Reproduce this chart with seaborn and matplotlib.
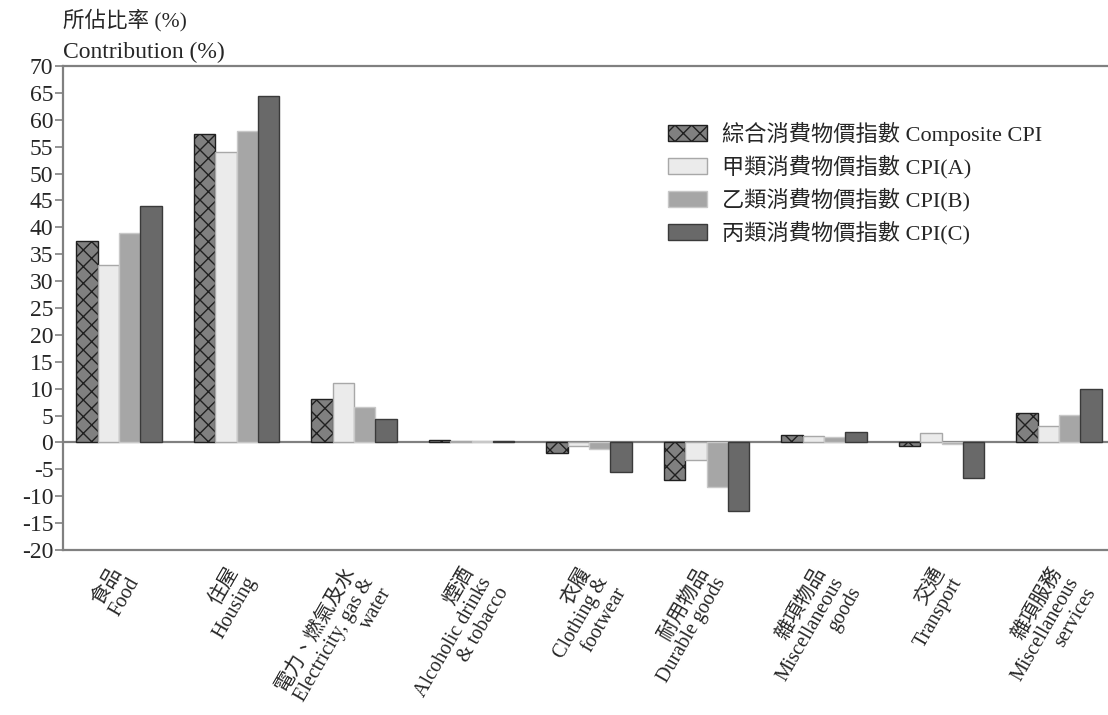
import matplotlib
matplotlib.use("Agg")
import matplotlib.pyplot as plt
import matplotlib.transforms as mtransforms
import numpy as np
import pandas as pd
import seaborn as sns

categories = ["食品\nFood", "住屋\nHousing", "電力、燃氣及水\nElectricity, gas &\nwater",
              "煙酒\nAlcoholic drinks\n& tobacco", "衣履\nClothing &\nfootwear",
              "耐用物品\nDurable goods", "雜項物品\nMiscellaneous\ngoods", "交通\nTransport",
              "雜項服務\nMiscellaneous\nservices"]
series = ["綜合消費物價指數 Composite CPI", "甲類消費物價指數 CPI(A)",
          "乙類消費物價指數 CPI(B)", "丙類消費物價指數 CPI(C)"]

composite = [37.4, 57.4, 8.1, 0.45, -1.9, -6.9, 1.35, -0.6, 5.4]
cpi_a = [33.0, 54.0, 11.0, 0.35, -0.75, -3.3, 1.15, 1.7, 3.1]
cpi_b = [38.9, 57.9, 6.6, 0.35, -1.2, -8.2, 0.95, -0.35, 5.1]
cpi_c = [43.9, 64.4, 4.4, 0.2, -5.5, -12.7, 1.9, -6.7, 10.0]

yticks = list(range(-20, 75, 5))

df = pd.DataFrame({
    "cat": categories * 4,
    "series": np.repeat(series, len(categories)),
    "value": composite + cpi_a + cpi_b + cpi_c,
})

sns.set_style("white")
plt.rcParams["font.family"] = ["Liberation Serif", "Noto Sans CJK TC"]
plt.rcParams["axes.unicode_minus"] = False
plt.rcParams["hatch.color"] = "#1a1a1a"
plt.rcParams["hatch.linewidth"] = 1.0

fills = ["#808080", "#ebebeb", "#a6a6a6", "#696969"]
edges = ["#202020", "#a8a8a8", "#c8c8c8", "#3a3a3a"]

fig = plt.figure(figsize=(11.08, 7.15), dpi=100)
ax = fig.add_axes([63 / 1108, 1 - 550 / 715, 1 - 63 / 1108, (550 - 66) / 715])

sns.barplot(data=df, x="cat", y="value", hue="series", order=categories,
            hue_order=series, palette=fills, saturation=1, width=0.73,
            errorbar=None, legend=False, ax=ax, zorder=2)

for i, cont in enumerate(ax.containers):
    for p in cont:
        p.set_edgecolor(edges[i])
        p.set_linewidth(1.0)
        if i == 0:
            p.set_hatch("xx")

ax.axhline(0, color="#808080", lw=1.6, zorder=1)

ax.set_ylim(-20, 70)
ax.set_yticks(yticks)
ax.set_xlim(-0.477, 8.417)
ax.set_xlabel("")
ax.set_ylabel("")

for side in ["left", "top", "bottom"]:
    ax.spines[side].set_color("#808080")
    ax.spines[side].set_linewidth(1.6)
ax.spines["right"].set_visible(False)

ax.tick_params(axis="y", direction="out", length=6, width=1.2, color="#808080",
               labelsize=17, pad=1, left=True)
ax.tick_params(axis="x", length=0, pad=10)
ax.set_xticks(range(len(categories)))
ax.set_xticklabels(categories, rotation=60, ha="right", va="top",
                   rotation_mode="anchor", fontsize=14.5, multialignment="right",
                   linespacing=1.08)
offset = mtransforms.ScaledTranslation(-10 / 100, 0, fig.dpi_scale_trans)
for lab in ax.get_xticklabels():
    lab.set_transform(lab.get_transform() + offset)

ax.legend(ax.containers, series, loc="upper left", frameon=False,
          bbox_to_anchor=(668 / 1108, 1 - 122 / 715), bbox_transform=fig.transFigure,
          borderpad=0, borderaxespad=0, fontsize=16, labelspacing=0.42,
          handlelength=1.75, handleheight=0.75, handletextpad=0.7)

fig.text(63 / 1108, 1 - 20 / 715, "所佔比率 (%)", fontsize=15.5, va="center", ha="left")
fig.text(63 / 1108, 1 - 52 / 715, "Contribution (%)", fontsize=17, va="center", ha="left")

fig.savefig("out.png", dpi=100)
